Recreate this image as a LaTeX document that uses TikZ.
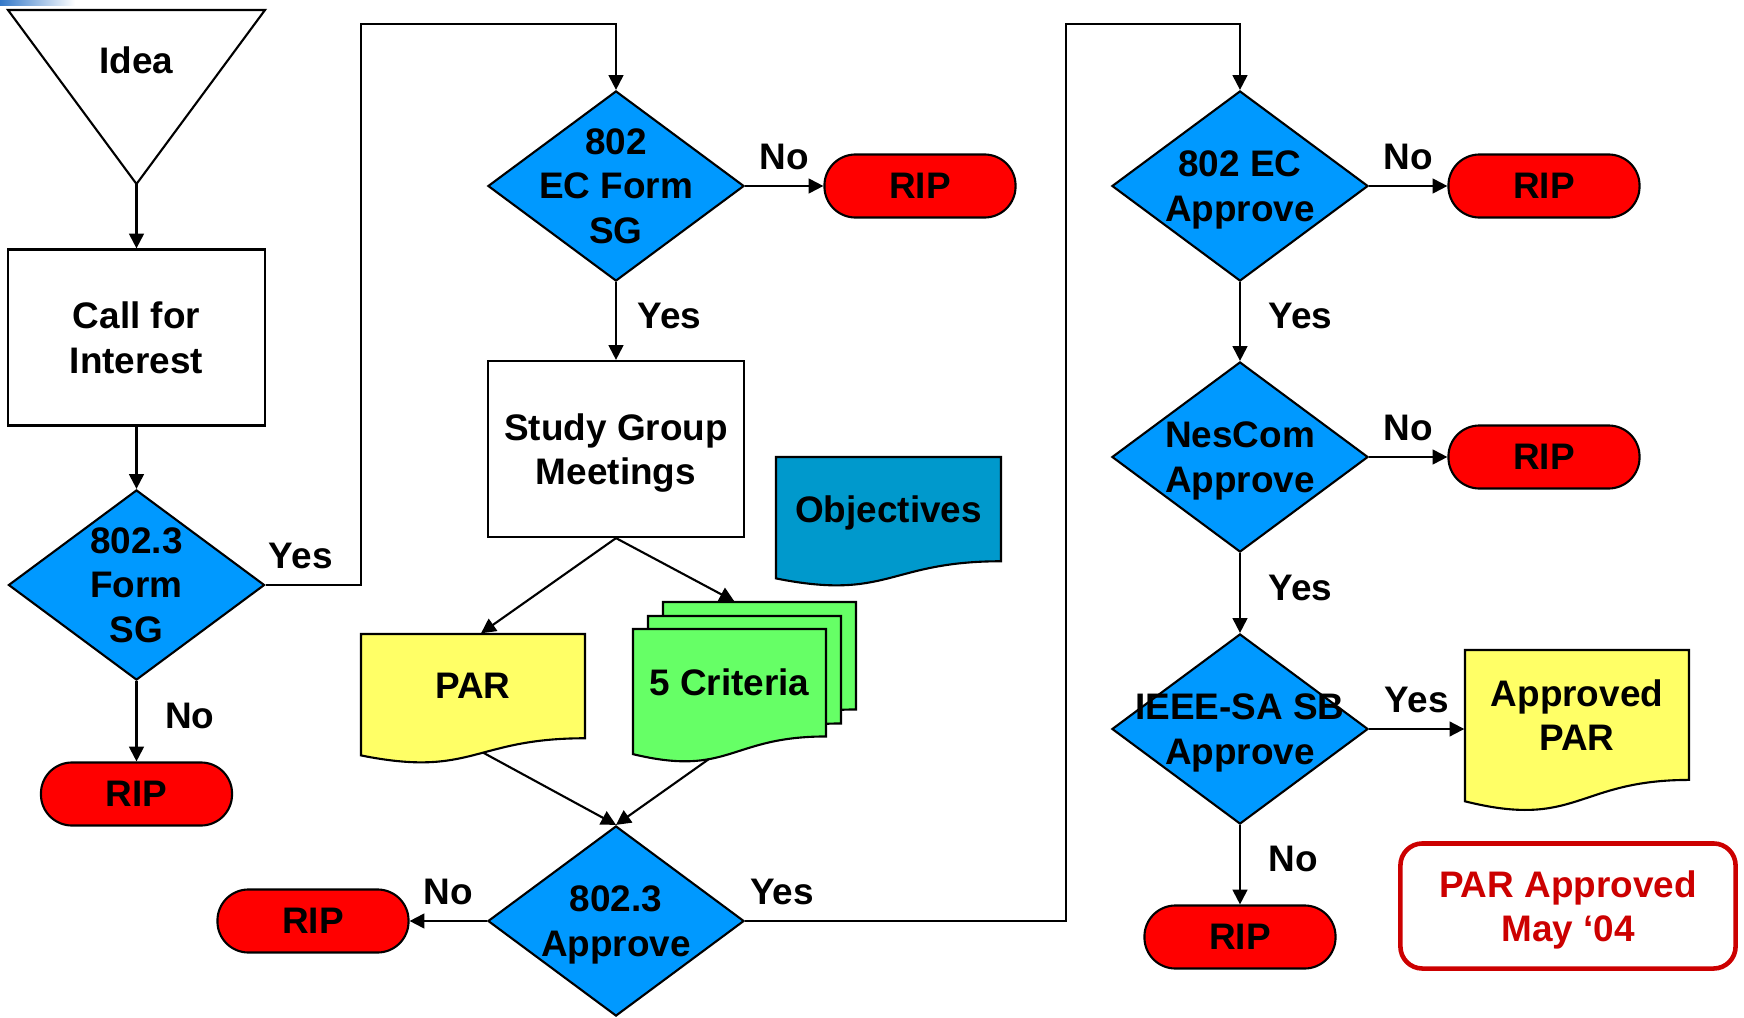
\documentclass[tikz,border=0pt]{standalone}
\usepackage{fontspec}
\setmainfont{Liberation Sans}
\usetikzlibrary{arrows.meta,positioning,shapes.geometric}

% document sheet: name, x, y, width, height, fill, text, foot position
\newcommand{\docsheet}[8]{%
  \draw[docline, fill=#6] (#2,#3) -- ({#2+#4},#3) -- ({#2+#4},{#3+0.802*#5})
    .. controls ({#2+0.5*#4},{#3+0.802*#5}) and ({#2+0.5*#4},{#3+1.1075*#5})
    .. (#2,{#3+0.934*#5}) coordinate[pos=#8] (#1foot) -- cycle;
  \node[align=center, inner sep=0pt, minimum width={#4*0.01cm},
    minimum height={0.8*#5*0.01cm}] (#1) at ({#2+0.5*#4},{#3+0.4*#5}) {#7};
}

\begin{document}
\begin{tikzpicture}[x=0.01cm, y=-0.01cm,
    font=\fontsize{10.5pt}{12.6pt}\selectfont\bfseries,
    every node/.style={text depth=0pt},
    docline/.style={line width=0.6pt},
    decision/.style={diamond, draw, line width=0.6pt, fill=decblue,
      minimum width=2.56cm, minimum height=1.9cm, inner sep=0pt,
      label={[align=center]center:#1}},
    stepbox/.style={rectangle, draw, line width=0.6pt, align=center,
      minimum width=2.56cm, minimum height=1.76cm},
    rip/.style={rectangle, rounded corners=0.31cm, draw, line width=0.6pt,
      fill=ripred, minimum width=1.91cm, minimum height=0.63cm},
    arr/.style={-{Triangle[length=4.2pt,width=4.2pt]}, line width=0.6pt}]
    % Define colors
    \definecolor{decblue}{RGB}{0,153,255}
    \definecolor{objblue}{RGB}{0,153,204}
    \definecolor{paryellow}{RGB}{255,255,102}
    \definecolor{critgreen}{RGB}{102,255,102}
    \definecolor{ripred}{RGB}{255,0,0}
    \definecolor{okred}{RGB}{204,0,0}
    \definecolor{barblue}{RGB}{51,120,200}

    \useasboundingbox (0,0) rectangle (1744,1018);
    \shade[left color=barblue, right color=white] (0,0) rectangle (75,6);

    % Draw nodes
    \draw[docline] (8,10) -- (265,10) -- (136.5,184) coordinate (ideatip) -- cycle;
    \node (idea) at (136.5,60) {Idea};
    \node[stepbox] (cfi) at (136.5,337.5) {Call for\\Interest};
    \node[decision={802.3\\Form\\SG}] (formsg) at (136.5,585) {};
    \node[rip] (rip1) at (136.5,794) {RIP};

    \node[decision={802\\EC Form\\SG}] (ecsg) at (616,186) {};
    \node[rip] (rip2) at (920,186) {RIP};
    \node[stepbox] (sg) at (616,449) {Study Group\\Meetings};
    \docsheet{objectives}{776}{457}{225}{130}{objblue}{Objectives}{0.5}
    \docsheet{par}{361}{634}{224}{130}{paryellow}{PAR}{0.44}
    \docsheet{crita}{663}{602}{193}{134}{critgreen}{}{0.5}
    \docsheet{critb}{648}{616}{193}{134}{critgreen}{}{0.5}
    \docsheet{crit}{633}{629}{193}{134}{critgreen}{5 Criteria}{0.64}
    \node[decision={802.3\\Approve}] (a3) at (616,921) {};
    \node[rip] (rip3) at (313,921) {RIP};

    \node[decision={802 EC\\Approve}] (ec) at (1240,186) {};
    \node[rip] (rip4) at (1544,186) {RIP};
    \node[decision={NesCom\\Approve}] (nes) at (1240,457) {};
    \node[rip] (rip5) at (1544,457) {RIP};
    \node[decision={IEEE-SA SB\\Approve}] (ieee) at (1240,729) {};
    \node[rip] (rip6) at (1240,937) {RIP};
    \docsheet{appar}{1465}{650}{224}{162}{paryellow}{Approved\\PAR}{0.5}
    \node[draw=okred, line width=1.3pt, rounded corners=0.22cm, text=okred,
      align=center, minimum width=3.35cm, minimum height=1.25cm]
      (parok) at (1568,906) {PAR Approved\\May ‘04};

    % Draw arrows
    \draw[arr] (ideatip) -- (cfi);
    \draw[arr] (cfi) -- (formsg);
    \draw[arr] (formsg) -- node[pos=0.43, right=0.16cm] {No} (rip1);
    \draw[arr] (formsg.east) -- ++(95,0) node[pos=0.37, above=0.04cm] {Yes}
      |- ([yshift=0.655cm]ecsg.north) -- (ecsg.north);
    \draw[arr] (ecsg) -- node[above=0.04cm] {No} (rip2);
    \draw[arr] (ecsg) -- node[pos=0.43, right=0.09cm] {Yes} (sg);
    \draw[arr] (sg.south) -- ([xshift=0.08cm]par.north);
    \draw[arr] (sg.south) -- ([xshift=0.72cm]crita.north west);
    \draw[arr] (parfoot) -- (a3.north);
    \draw[arr] (critfoot) -- (a3.north);
    \draw[arr] (a3) -- node[above=0.04cm] {No} (rip3);
    \draw[arr] (a3.east) -- ++(321,0) node[pos=0.115, above=0.04cm] {Yes}
      |- ([yshift=0.655cm]ec.north) -- (ec.north);
    \draw[arr] (ec) -- node[above=0.04cm] {No} (rip4);
    \draw[arr] (ec) -- node[pos=0.43, right=0.16cm] {Yes} (nes);
    \draw[arr] (nes) -- node[above=0.04cm] {No} (rip5);
    \draw[arr] (nes) -- node[pos=0.43, right=0.16cm] {Yes} (ieee);
    \draw[arr] (ieee.east) -- node[above=0.04cm] {Yes} (ieee.east -| appar.west);
    \draw[arr] (ieee) -- node[pos=0.43, right=0.16cm] {No} (rip6);
\end{tikzpicture}
\end{document}
